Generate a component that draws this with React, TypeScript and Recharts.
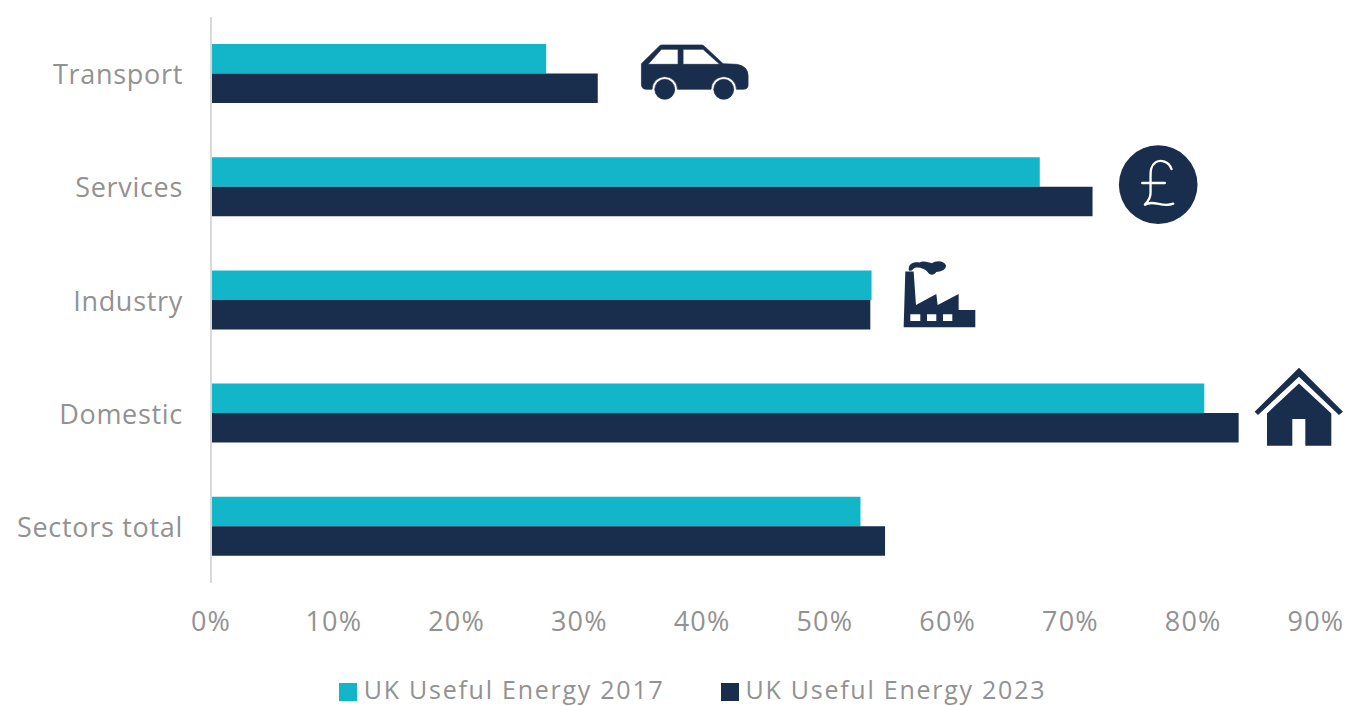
import React from "react";
import { BarChart, Bar, XAxis, YAxis, Legend, LabelList } from "recharts";

const categories = ["Transport", "Services", "Industry", "Domestic", "Sectors total"];
const energy2017 = [27.3, 67.5, 53.8, 80.9, 52.9];
const energy2023 = [31.5, 71.8, 53.7, 83.7, 54.9];
const icons = ["car", "pound", "factory", "house", ""];
const xTicks = [0, 10, 20, 30, 40, 50, 60, 70, 80, 90];
const NAVY = "#192d4d";
const TEAL = "#12b6c8";
const GREY = "#929292";
const FONT = "'Open Sans', sans-serif";
const FS = 27;

const data = categories.map((name, i) => ({
  name,
  y2017: energy2017[i],
  y2023: energy2023[i],
  icon: icons[i],
}));

function Icon({ kind, x, y }: { kind: string; x: number; y: number }) {
  // x = end of the 2023 bar, y = top of the 2023 bar
  if (kind === "car") {
    return (
      <g transform={`translate(${x + 22},${y - 52.5}) scale(0.3333)`} fill={NAVY} stroke={NAVY} strokeWidth="2">
        <path fillRule="evenodd" d="M65 128 L120 74 Q122 72 126 72 L245 72 Q250 72 254 76 L310 128 L350 130 Q385 135 385 165 L385 192 Q385 205 370 205 L350 205 A38 38 0 0 0 274 205 L173 205 A38 38 0 0 0 97 205 L80 205 Q65 205 65 190 Z M85 130 L175 130 L175 85 L125 85 Z M190 85 L190 130 L300 130 L250 85 Z" />
        <circle cx="135" cy="205" r="30" />
        <circle cx="312" cy="205" r="30" />
      </g>
    );
  }
  if (kind === "pound") {
    return (
      <g transform={`translate(${x + 8},${y - 57}) scale(0.3333)`}>
        <circle cx="173" cy="165" r="118" fill={NAVY} />
        <path d="M213 118 C205 95 180 88 165 98 C150 108 150 125 150 140 L150 190 C150 205 142 216 133 225 C160 208 185 236 218 222 M125 160 L193 160" fill="none" stroke="#fff" strokeWidth="7" strokeLinecap="round" strokeLinejoin="round" />
      </g>
    );
  }
  if (kind === "factory") {
    return (
      <g transform={`translate(${x + 10},${y - 50}) scale(0.3333)`} fill={NAVY}>
        <path fillRule="evenodd" d="M70 232 L75 65 L100 65 L107 165 L168 132 L172 165 L235 132 L235 180 L285 180 L285 232 Z M90 193 L90 213 L120 213 L120 193 Z M140 193 L140 213 L168 213 L168 193 Z M188 193 L188 213 L216 213 L216 193 Z" />
        <path d="M85 58 C85 42 100 34 118 38 C130 30 145 38 155 40 C165 32 190 30 197 46 C198 60 180 66 168 66 C160 78 148 76 142 66 C130 52 105 48 98 58 C92 64 86 64 85 58 Z" />
      </g>
    );
  }
  if (kind === "house") {
    return (
      <g transform={`translate(${x + 1},${y - 58}) scale(0.3333)`} fill={NAVY}>
        <path d="M45 170 L178 38 L310 170 L298 180 L178 65 L55 180 Z" />
        <path d="M178 85 L275 175 L275 272 L197 272 L197 192 L158 192 L158 272 L82 272 L82 175 Z" />
      </g>
    );
  }
  return null;
}

const renderIcon = (props: any) => {
  const { x, y, width, value } = props;
  return <Icon kind={value} x={x + width} y={y} key={value} />;
};

const legendContent = () => (
  <div style={{ display: "flex", justifyContent: "center", alignItems: "center", fontFamily: FONT, fontSize: 25, letterSpacing: 1.75, lineHeight: "28px", color: GREY, whiteSpace: "nowrap", height: 28, paddingLeft: 36, boxSizing: "border-box" }}>
    {[["UK Useful Energy 2017", TEAL], ["UK Useful Energy 2023", NAVY]].map(([t, c], i) => (
      <span key={t} style={{ display: "inline-flex", alignItems: "center", marginLeft: i ? 56 : 0 }}>
        <span style={{ width: 18, height: 18, background: c, marginRight: 7, display: "inline-block", position: "relative", top: 3 }} />
        {t}
      </span>
    ))}
  </div>
);

const xTickStyle = { fill: GREY, fontSize: FS, fontFamily: FONT, letterSpacing: 1.2 };
const yTickStyle = { fill: GREY, fontSize: FS, fontFamily: FONT, letterSpacing: 0.7, dy: 1 };

export default function App() {
  return (
    <div style={{ position: "absolute", left: 0, top: 0, width: 1349, height: 706, overflow: "hidden", background: "#fff" }}>
      <BarChart
        width={1349}
        height={706}
        data={data}
        layout="vertical"
        margin={{ top: 17, right: 33, bottom: 35, left: 0 }}
        barSize={29.5}
        barGap={0}
      >
        <XAxis
          type="number"
          domain={[0, 90]}
          ticks={xTicks}
          tickFormatter={(v: number) => `${v}%`}
          axisLine={false}
          tickLine={false}
          height={60}
          interval={0}
          tickMargin={23}
          tick={xTickStyle}
        />
        <YAxis
          type="category"
          dataKey="name"
          width={211}
          axisLine={{ stroke: "#d9d9d9", strokeWidth: 2 }}
          tickLine={false}
          tickMargin={22}
          tick={yTickStyle}
        />
        <Bar dataKey="y2017" name="UK Useful Energy 2017" fill={TEAL} isAnimationActive={false} />
        <Bar dataKey="y2023" name="UK Useful Energy 2023" fill={NAVY} isAnimationActive={false}>
          <LabelList dataKey="icon" content={renderIcon} />
        </Bar>
        <Legend content={legendContent} verticalAlign="bottom" wrapperStyle={{ position: "absolute", left: 0, width: 1349, top: 675 }} />
      </BarChart>
    </div>
  );
}
